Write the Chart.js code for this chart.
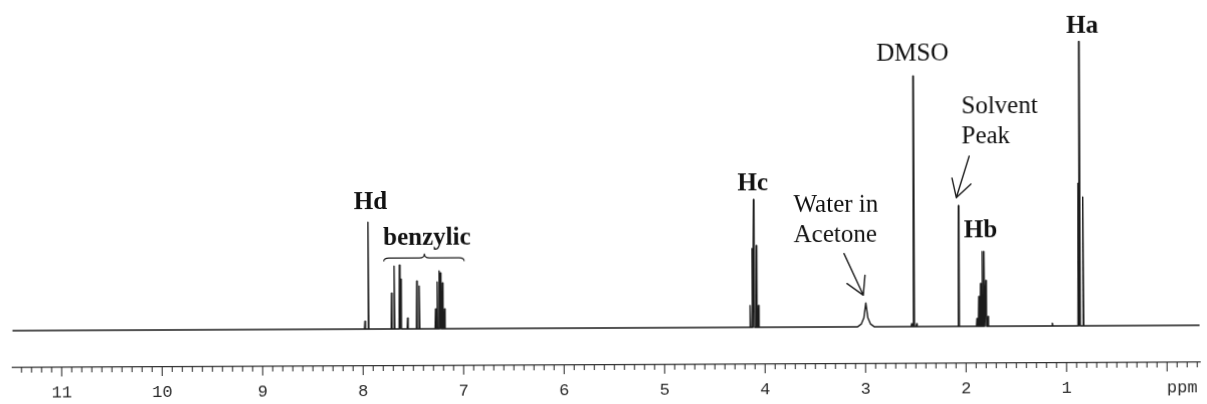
<!DOCTYPE html>
<html lang="en">
<head>
  <meta charset="UTF-8" />
  <title>1H NMR spectrum</title>
  <script src="https://cdn.jsdelivr.net/npm/chart.js"></script>
  <style>
    html, body {
      margin: 0;
      padding: 0;
      background: #fff;
      overflow: hidden;
    }
    .scan {
      position: relative;
      width: 1207px;
      height: 404px;
      /* the original is a slightly tilted scan */
      transform: rotate(-0.26deg);
    }
  </style>
</head>
<body>

  <div class="scan">
    <canvas id="nmr"></canvas>
  </div>

  <script>
    // axis labels (ppm)
    const tickValues = [11, 10, 9, 8, 7, 6, 5, 4, 3, 2, 1, -0.15];
    const tickLabels = ['11', '10', '9', '8', '7', '6', '5', '4', '3', '2', '1', 'ppm'];

    // sharp lines: chemical shift (ppm) and height
    const peakPpm = [
      7.98, 7.946,
      7.714, 7.688, 7.635, 7.622, 7.555, 7.463, 7.439,
      7.277, 7.260, 7.240, 7.227, 7.207, 7.187,
      4.147, 4.125, 4.109, 4.083, 4.063,
      2.54, 2.517, 2.49,
      2.07,
      1.89, 1.871, 1.853, 1.835, 1.818, 1.80, 1.78,
      1.14, 0.879, 0.866, 0.832
    ];
    const peakHeight = [
      8, 107,
      36, 63, 64, 50, 11, 48, 43,
      20, 47, 58, 56, 46, 20,
      22, 79, 128, 82, 22,
      3, 251, 3,
      121,
      8, 30, 43, 75, 75, 46, 10,
      3, 143, 285, 129
    ];

    // broad water signal, read point by point
    const waterPpm = [3.08, 3.04, 3.015, 2.995, 2.975, 2.95, 2.91];
    const waterHeight = [0, 3, 9, 24, 9, 3, 0];

    // labels on the spectrum: text, ppm, height
    const labelText = ['Hd', 'benzylic', 'Hc', 'Water in', 'Acetone', 'DMSO', 'Solvent', 'Peak', 'Hb', 'Ha'];
    const labelPpm  = [7.92, 7.36, 4.115, 3.71, 3.71, 2.52, 2.036, 2.036, 1.85, 0.83];
    const labelY    = [120, 84, 137, 115, 85, 267, 213, 183, 89, 294];
    const labelBold = [true, true, true, false, false, false, false, false, true, true];
    const labelAlign = ['center', 'center', 'center', 'left', 'left', 'center', 'left', 'left', 'center', 'center'];

    // arrows: tail -> tip
    const arrows = [
      { from: [3.21, 73.6], to: [3.02, 31.8] },
      { from: [1.96, 170.6], to: [2.09, 129.1] }
    ];

    const xMin = -0.325, xMax = 11.49;

    // build trace
    const lines = peakPpm.map((p, i) => ({ p, h: peakHeight[i] }));
    lines.sort((a, b) => b.p - a.p);
    const halfBase = 0.005;
    const trace = [{ x: xMax, y: 0 }];
    let wDone = false;
    lines.forEach(l => {
      if (!wDone && l.p < waterPpm[0]) {
        waterPpm.forEach((p, i) => trace.push({ x: p, y: waterHeight[i] }));
        wDone = true;
      }
      trace.push({ x: l.p + halfBase, y: 0 });
      trace.push({ x: l.p, y: l.h });
      trace.push({ x: l.p - halfBase, y: 0 });
    });
    trace.push({ x: xMin, y: 0 });

    const ink = '#1c1c1c';

    const decor = {
      id: 'decor',
      afterDraw(chart) {
        const { ctx, scales: { x, y } } = chart;
        ctx.save();
        ctx.strokeStyle = '#333';
        ctx.lineWidth = 1.1;
        // minor and major ticks below the axis line
        const top = x.top;
        for (let k = -3; k <= 114; k++) {
          const px = x.getPixelForValue(k / 10);
          const len = k % 10 === 0 ? 9 : 5;
          ctx.beginPath();
          ctx.moveTo(px, top);
          ctx.lineTo(px, top + len);
          ctx.stroke();
        }

        // labels
        ctx.fillStyle = '#111';
        ctx.textBaseline = 'alphabetic';
        labelText.forEach((t, i) => {
          ctx.font = (labelBold[i] ? 'bold ' : '') + '25px "Liberation Serif", "Times New Roman", serif';
          ctx.textAlign = labelAlign[i];
          ctx.fillText(t, x.getPixelForValue(labelPpm[i]), y.getPixelForValue(labelY[i]));
        });

        // brace under "benzylic"
        const xl = x.getPixelForValue(7.79), xr = x.getPixelForValue(6.99), xt = x.getPixelForValue(7.385);
        const yEnd = y.getPixelForValue(67.8), yMid = y.getPixelForValue(71.1), yTip = y.getPixelForValue(75.5);
        ctx.strokeStyle = ink;
        ctx.lineWidth = 1.1;
        ctx.beginPath();
        ctx.moveTo(xl, yEnd);
        ctx.quadraticCurveTo(xl, yMid, xl + 5, yMid);
        ctx.lineTo(xt - 5, yMid);
        ctx.quadraticCurveTo(xt, yMid, xt, yTip);
        ctx.quadraticCurveTo(xt, yMid, xt + 5, yMid);
        ctx.lineTo(xr - 5, yMid);
        ctx.quadraticCurveTo(xr, yMid, xr, yEnd);
        ctx.stroke();

        // arrows
        ctx.lineWidth = 1.4;
        ctx.lineCap = 'round';
        arrows.forEach(a => {
          const x0 = x.getPixelForValue(a.from[0]), y0 = y.getPixelForValue(a.from[1]);
          const x1 = x.getPixelForValue(a.to[0]), y1 = y.getPixelForValue(a.to[1]);
          const ang = Math.atan2(y0 - y1, x0 - x1);
          ctx.beginPath();
          ctx.moveTo(x0, y0);
          ctx.lineTo(x1, y1);
          [-0.52, 0.52].forEach(d => {
            ctx.moveTo(x1, y1);
            ctx.lineTo(x1 + 20 * Math.cos(ang + d), y1 + 20 * Math.sin(ang + d));
          });
          ctx.stroke();
        });
        ctx.restore();
      }
    };

    new Chart(document.getElementById('nmr'), {
      type: 'line',
      data: {
        datasets: [{
          data: trace,
          borderColor: ink,
          borderWidth: 1.4,
          borderJoinStyle: 'round',
          pointRadius: 0,
          tension: 0,
          fill: false
        }]
      },
      options: {
        responsive: true,
        maintainAspectRatio: false,
        animation: false,
        layout: { padding: { left: 11.7, right: 8, top: 0, bottom: 0 } },
        scales: {
          x: {
            type: 'linear',
            reverse: true,
            min: xMin,
            max: xMax,
            afterBuildTicks: s => { s.ticks = tickValues.map(v => ({ value: v })); },
            afterFit: s => {
              s.height = 39;
              s.paddingLeft = 0;
              s.paddingRight = 0;
            },
            ticks: {
              autoSkip: false,
              maxRotation: 0,
              padding: 15,
              color: '#2a2a2a',
              font: { family: '"Liberation Mono", "Courier New", monospace', size: 17 },
              callback: v => tickLabels[tickValues.indexOf(v)]
            },
            grid: { display: false, drawTicks: false },
            border: { display: true, color: '#333', width: 1.3 }
          },
          y: {
            display: false,
            min: -37,
            max: 328
          }
        },
        plugins: {
          legend: { display: false },
          tooltip: { enabled: false }
        }
      },
      plugins: [decor]
    });
  </script>

</body>
</html>
